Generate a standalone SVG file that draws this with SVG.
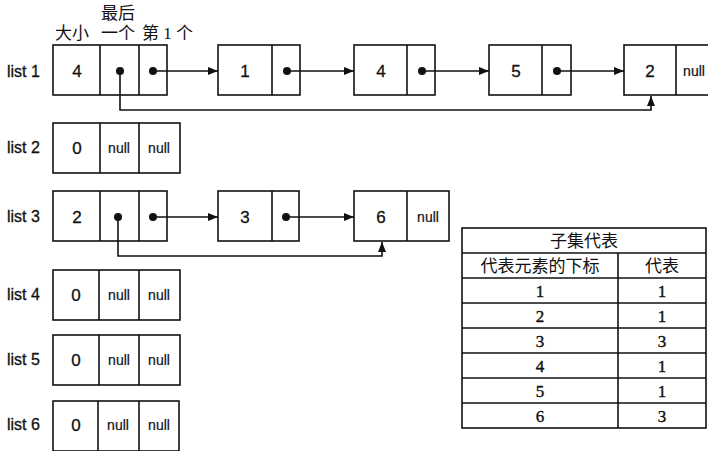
<svg xmlns="http://www.w3.org/2000/svg" width="708" height="451" viewBox="0 0 708 451">
<defs>
<style>
.box{fill:#fff;stroke:#111;stroke-width:1.6}
.ln{fill:none;stroke:#111;stroke-width:1.6}
.lbl{font-family:"Liberation Sans",Arial,sans-serif;font-size:16px;fill:#111;stroke:#111;stroke-width:0.3}
.v{font-family:"Liberation Sans",Arial,sans-serif;font-size:17px;fill:#111;text-anchor:middle;stroke:#111;stroke-width:0.3}
.nl{font-family:"Liberation Sans",Arial,sans-serif;font-size:14px;fill:#111;text-anchor:middle;stroke:#111;stroke-width:0.2}
.cjk{font-family:"Liberation Serif","Noto Sans CJK SC",serif;font-size:17px;fill:#111}
.tc{font-family:"Liberation Serif","Noto Sans CJK SC",serif;font-size:17px;fill:#111;text-anchor:middle}
.tn{font-family:"Liberation Serif",serif;font-size:17px;fill:#111;text-anchor:middle;stroke:#111;stroke-width:0.4}
.dot{fill:#111}
</style>
<marker id="ah" viewBox="0 0 10 8" refX="10" refY="4" markerWidth="10" markerHeight="8" markerUnits="userSpaceOnUse" orient="auto">
<path d="M0,0 L10,4 L0,8 Z" fill="#111"/>
</marker>
</defs>
<rect width="708" height="451" fill="#fff"/>

<g id="header-labels">
<text class="cjk" x="55" y="39">大小</text>
<text class="cjk" x="101" y="19">最后</text>
<text class="cjk" x="101" y="39">一个</text>
<text class="cjk" x="142" y="39">第 1 个</text>
</g>

<g id="list1">
<text class="lbl" x="7" y="77">list 1</text>
<rect class="box" x="53" y="45" width="114" height="50"/>
<line class="ln" x1="100" y1="45" x2="100" y2="95"/>
<line class="ln" x1="139" y1="45" x2="139" y2="95"/>
<text class="v" x="77" y="77">4</text>
<circle class="dot" cx="120" cy="71" r="4"/>
<circle class="dot" cx="153" cy="71" r="4"/>
</g>
<g id="n1">
<rect class="box" x="218" y="45" width="82" height="50"/>
<line class="ln" x1="272" y1="45" x2="272" y2="95"/>
<text class="v" x="245" y="77">1</text>
<circle class="dot" cx="287" cy="71" r="4"/>
</g>
<g id="n4">
<rect class="box" x="354" y="45" width="81" height="50"/>
<line class="ln" x1="407" y1="45" x2="407" y2="95"/>
<text class="v" x="381" y="77">4</text>
<circle class="dot" cx="422" cy="71" r="4"/>
</g>
<g id="n5">
<rect class="box" x="489" y="45" width="82" height="50"/>
<line class="ln" x1="542" y1="45" x2="542" y2="95"/>
<text class="v" x="516" y="77">5</text>
<circle class="dot" cx="557" cy="71" r="4"/>
</g>
<g id="n2">
<rect class="box" x="624" y="45" width="90" height="50"/>
<line class="ln" x1="676" y1="45" x2="676" y2="95"/>
<text class="v" x="650" y="77">2</text>
<text class="nl" x="694" y="76">null</text>
</g>

<g id="list2">
<text class="lbl" x="7" y="153">list 2</text>
<rect class="box" x="53" y="123" width="127" height="50"/>
<line class="ln" x1="100" y1="123" x2="100" y2="173"/>
<line class="ln" x1="139" y1="123" x2="139" y2="173"/>
<text class="v" x="77" y="154">0</text>
<text class="nl" x="119" y="153">null</text>
<text class="nl" x="159" y="153">null</text>
</g>

<g id="list3">
<text class="lbl" x="7" y="222">list 3</text>
<rect class="box" x="53" y="191" width="114" height="50"/>
<line class="ln" x1="100" y1="191" x2="100" y2="241"/>
<line class="ln" x1="139" y1="191" x2="139" y2="241"/>
<text class="v" x="77" y="223">2</text>
<circle class="dot" cx="118" cy="217" r="4"/>
<circle class="dot" cx="153" cy="217" r="4"/>
</g>
<g id="n3">
<rect class="box" x="218" y="191" width="81" height="50"/>
<line class="ln" x1="272" y1="191" x2="272" y2="241"/>
<text class="v" x="245" y="223">3</text>
<circle class="dot" cx="286" cy="217" r="4"/>
</g>
<g id="n6">
<rect class="box" x="354" y="191" width="95" height="50"/>
<line class="ln" x1="407" y1="191" x2="407" y2="241"/>
<text class="v" x="381" y="223">6</text>
<text class="nl" x="428" y="222">null</text>
</g>

<g id="list4">
<text class="lbl" x="7" y="300">list 4</text>
<rect class="box" x="53" y="270" width="127" height="50"/>
<line class="ln" x1="99" y1="270" x2="99" y2="320"/>
<line class="ln" x1="139" y1="270" x2="139" y2="320"/>
<text class="v" x="76" y="301">0</text>
<text class="nl" x="119" y="300">null</text>
<text class="nl" x="159" y="300">null</text>
</g>
<g id="list5">
<text class="lbl" x="7" y="365">list 5</text>
<rect class="box" x="53" y="335" width="127" height="50"/>
<line class="ln" x1="99" y1="335" x2="99" y2="385"/>
<line class="ln" x1="139" y1="335" x2="139" y2="385"/>
<text class="v" x="76" y="366">0</text>
<text class="nl" x="119" y="365">null</text>
<text class="nl" x="159" y="365">null</text>
</g>
<g id="list6">
<text class="lbl" x="7" y="430">list 6</text>
<rect class="box" x="53" y="401" width="126" height="50"/>
<line class="ln" x1="98" y1="401" x2="98" y2="451"/>
<line class="ln" x1="139" y1="401" x2="139" y2="451"/>
<text class="v" x="76" y="431">0</text>
<text class="nl" x="118" y="430">null</text>
<text class="nl" x="159" y="430">null</text>
</g>

<g id="connectors">
<line class="ln" x1="153" y1="71" x2="218" y2="71" marker-end="url(#ah)"/>
<line class="ln" x1="287" y1="71" x2="354" y2="71" marker-end="url(#ah)"/>
<line class="ln" x1="422" y1="71" x2="489" y2="71" marker-end="url(#ah)"/>
<line class="ln" x1="557" y1="71" x2="624" y2="71" marker-end="url(#ah)"/>
<polyline class="ln" points="120,71 120,110 651,110 651,96" marker-end="url(#ah)"/>
<line class="ln" x1="153" y1="217" x2="218" y2="217" marker-end="url(#ah)"/>
<line class="ln" x1="286" y1="217" x2="354" y2="217" marker-end="url(#ah)"/>
<polyline class="ln" points="118,217 118,256 382,256 382,242" marker-end="url(#ah)"/>
</g>

<g id="table">
<rect class="box" x="462" y="228" width="244" height="200"/>
<line class="ln" x1="462" y1="253" x2="706" y2="253"/>
<line class="ln" x1="462" y1="278" x2="706" y2="278"/>
<line class="ln" x1="462" y1="303" x2="706" y2="303"/>
<line class="ln" x1="462" y1="328" x2="706" y2="328"/>
<line class="ln" x1="462" y1="353" x2="706" y2="353"/>
<line class="ln" x1="462" y1="378" x2="706" y2="378"/>
<line class="ln" x1="462" y1="403" x2="706" y2="403"/>
<line class="ln" x1="618" y1="253" x2="618" y2="428"/>
<text class="tc" x="584" y="247">子集代表</text>
<text class="tc" x="540" y="272">代表元素的下标</text>
<text class="tc" x="662" y="272">代表</text>
<text class="tn" x="540" y="297">1</text><text class="tn" x="662" y="297">1</text>
<text class="tn" x="540" y="322">2</text><text class="tn" x="662" y="322">1</text>
<text class="tn" x="540" y="347">3</text><text class="tn" x="662" y="347">3</text>
<text class="tn" x="540" y="372">4</text><text class="tn" x="662" y="372">1</text>
<text class="tn" x="540" y="397">5</text><text class="tn" x="662" y="397">1</text>
<text class="tn" x="540" y="422">6</text><text class="tn" x="662" y="422">3</text>
</g>
</svg>
